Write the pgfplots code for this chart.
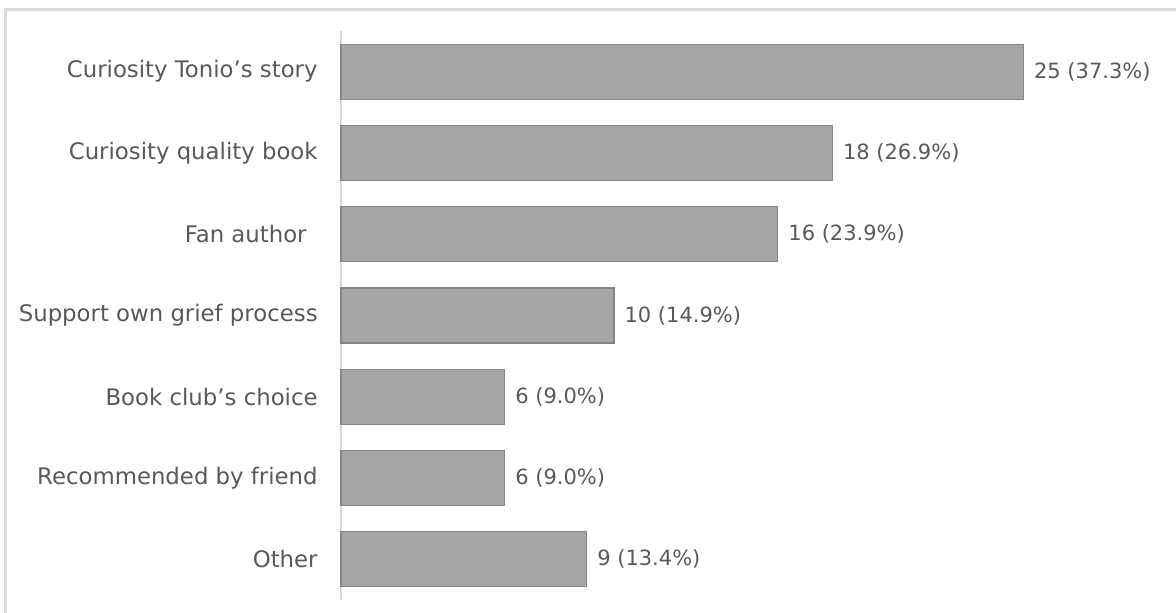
\documentclass[border=0pt]{standalone}
\usepackage{pgfplots}
\pgfplotsset{compat=1.18}
\usepackage{pgfplotstable}
\usepackage{fontspec}
\setmainfont{DejaVu Sans}
\definecolor{barfill}{HTML}{A6A6A6}
\definecolor{barline}{HTML}{858585}
\definecolor{txt}{HTML}{595959}
\definecolor{frame}{HTML}{D9D9D9}
\pgfplotstableread[col sep=comma]{
y,v,lab
6,25,25 (37.3\%)
5,18,18 (26.9\%)
4,16,16 (23.9\%)
3,10,10 (14.9\%)
2,6,6 (9.0\%)
1,6,6 (9.0\%)
0,9,9 (13.4\%)
}\datatable
\begin{document}
\begin{tikzpicture}
\useasboundingbox (0pt,0pt) rectangle (588pt,306.5pt);
\draw[frame, line width=1.5pt] (2.75pt,0pt) -- (2.75pt,301.75pt) -- (588pt,301.75pt);
\begin{axis}[
  at={(170.5pt,6.5pt)}, anchor=south west,
  scale only axis, width=409.5pt, height=284.5pt,
  xbar, bar width=27.5pt,
  xmin=0, xmax=30, ymin=-0.5, ymax=6.5,
  axis lines*=left, hide x axis,
  y axis line style={frame, line width=0.75pt, -},
  ytick={0,...,6}, major tick length=0pt,
  yticklabels={Other, Recommended by friend, Book club’s choice, Support own grief process, Fan author\kern5.5pt, Curiosity quality book, Curiosity Tonio’s story},
  yticklabel style={font=\fontsize{11.4}{13}\selectfont, text=txt, inner sep=0pt, xshift=-11.5pt, anchor=east},
  nodes near coords,
  point meta=explicit symbolic,
  every node near coord/.append style={font=\fontsize{10.5}{12}\selectfont, text=txt, anchor=west, inner sep=0pt, xshift=5pt},
  clip=false,
]
\addplot[fill=barfill, draw=barline, line width=0.6pt] table[x=v, y=y, meta=lab] {\datatable};
\end{axis}
\end{tikzpicture}
\end{document}
